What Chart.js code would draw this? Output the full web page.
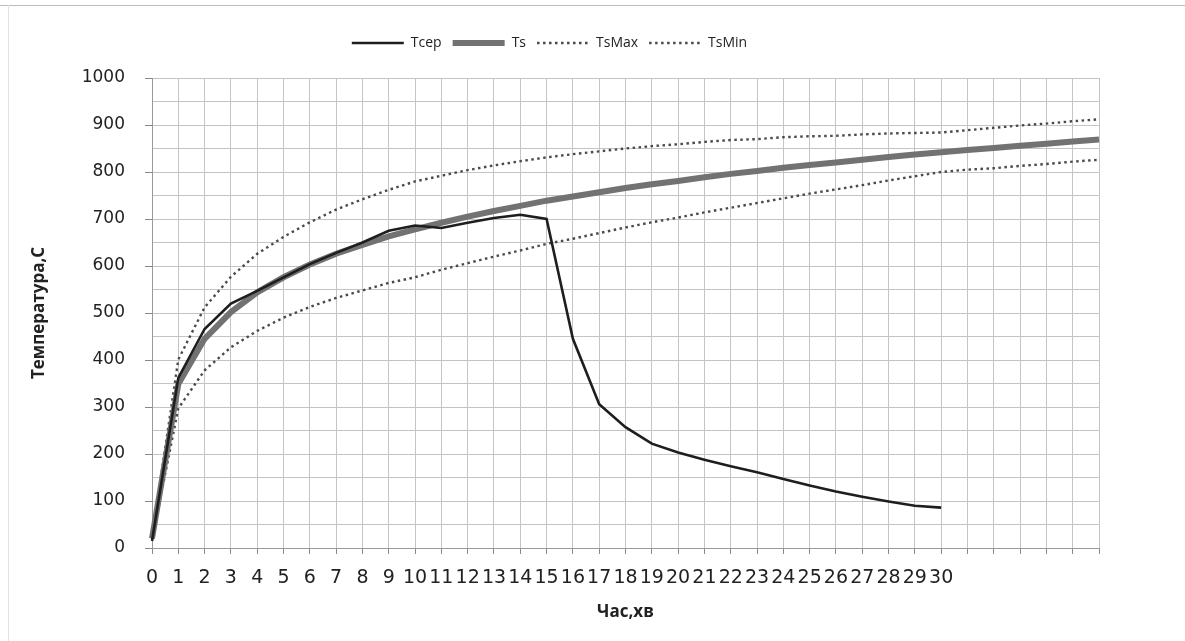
<!DOCTYPE html>
<html><head><meta charset="utf-8">
<script src="https://cdn.jsdelivr.net/npm/chart.js@4.4.1/dist/chart.umd.min.js"></script>
<style>
html,body{margin:0;padding:0;background:#fff;}
#wrap{position:relative;width:1185px;height:641px;overflow:hidden;}
#topline{position:absolute;left:0;top:5px;width:1185px;height:0;border-top:1px solid #bdbdbd;}
#leftline{position:absolute;left:8px;top:5px;width:0;height:636px;border-left:1px solid #e2e2e2;}
canvas{position:absolute;left:0;top:0;}
</style></head>
<body><div id="wrap"><div id="topline"></div><div id="leftline"></div><canvas id="c" width="1185" height="641"></canvas></div>
<script>
const tickLabels = ["0","1","2","3","4","5","6","7","8","9","10","11","12","13","14","15","16","17","18","19","20","21","22","23","24","25","26","27","28","29","30","","","","","",""];
const tcep  = [15,362,466,520,547,576,604,628,650,675,686,681,692,702,709,700,445,306,257,222,203,188,174,161,147,133,120,109,99,90,86];
const ts    = [20,349,445,502,544,576,603,626,645,663,678,692,705,717,728,739,748,757,766,774,781,789,796,802,809,815,820,826,832,837,842,847,851,856,860,865,869];
const tsMax = [23,401,512,577,626,662,693,720,742,762,780,792,804,814,823,831,838,844,850,855,859,864,868,870,874,876,877,880,882,883,884,889,894,899,903,908,912];
const tsMin = [17,297,378,427,462,490,513,532,548,564,576,592,606,620,633,647,658,670,682,693,703,714,724,734,744,754,763,772,782,791,800,805,808,813,817,822,826];
const seriesNames = ["Тсер","Ts","TsMax","TsMin"];

const LEGEND_H = 53;
const legendHeightPlugin = {
  id: 'legendHeight',
  beforeLayout(chart) {
    const lg = chart.legend;
    if (lg && !lg._patchedH) {
      const f = lg.fit;
      lg.fit = function() { f.call(this); this.height = LEGEND_H; };
      lg._patchedH = true;
    }
  }
};

const gridColor = '#c4c4c4';
new Chart(document.getElementById('c'), {
  type: 'line',
  data: {
    labels: tickLabels,
    datasets: [
      {label: seriesNames[0], data: tcep, borderColor: '#1e1e1e', backgroundColor: '#1e1e1e', borderWidth: 2.6, pointRadius: 0, pointStyle: 'line', tension: 0},
      {label: seriesNames[1], data: ts, borderColor: '#727272', backgroundColor: '#727272', borderWidth: 6, pointRadius: 0, pointStyle: 'line', tension: 0},
      {label: seriesNames[2], data: tsMax, borderColor: '#4a4a4a', backgroundColor: '#4a4a4a', borderWidth: 2.4, borderDash: [2.5, 3.5], pointRadius: 0, pointStyle: 'line', tension: 0},
      {label: seriesNames[3], data: tsMin, borderColor: '#4a4a4a', backgroundColor: '#4a4a4a', borderWidth: 2.4, borderDash: [2.5, 3.5], pointRadius: 0, pointStyle: 'line', tension: 0}
    ]
  },
  options: {
    responsive: false,
    animation: false,
    devicePixelRatio: 1,
    layout: {padding: {top: 25, left: 0, right: 86, bottom: 0}},
    plugins: {
      tooltip: {enabled: false},
      legend: {
        position: 'top',
        labels: {
          usePointStyle: true,
          pointStyleWidth: 52,
          boxHeight: 14,
          padding: 11,
          color: '#222',
          font: {family: 'Open Sans', size: 14},
          generateLabels(chart) {
            const items = Chart.defaults.plugins.legend.labels.generateLabels(chart);
            items.forEach(it => {
              const ds = chart.data.datasets[it.datasetIndex];
              it.lineDash = ds.borderDash || [];
              it.lineWidth = ds.borderWidth;
              it.strokeStyle = ds.borderColor;
              it.lineCap = 'butt';
              it.pointStyle = 'line';
            });
            return items;
          }
        }
      }
    },
    scales: {
      x: {
        offset: false,
        ticks: {autoSkip: false, maxRotation: 0, minRotation: 0, color: '#222', padding: 13, font: {family: 'DejaVu Sans', size: 19}},
        grid: {color: gridColor, tickLength: 6, tickColor: '#888', offset: false},
        border: {color: '#999'},
        title: {display: true, text: 'Час,хв', color: '#222', font: {family: 'Open Sans', size: 17, weight: 'bold'}, padding: {top: 0, bottom: 19}},
        afterFit(s) { s.height = 93; }
      },
      y: {
        min: 0, max: 1000,
        ticks: {stepSize: 50, color: '#222', padding: 20, font: {family: 'DejaVu Sans', size: 17},
                callback: v => (v % 100 === 0 ? String(v) : '')},
        grid: {color: gridColor, tickLength: 7, tickColor: c => (c.tick && c.tick.value % 100 === 0 ? '#888' : 'rgba(0,0,0,0)')},
        border: {color: '#999'},
        title: {display: true, text: 'Температура,С', color: '#222', font: {family: 'Open Sans', size: 17, weight: 'bold'}, padding: {top: 29, bottom: 0}},
        afterFit(s) { s.width = 152; }
      }
    }
  },
  plugins: [legendHeightPlugin]
});
</script>
</body></html>
